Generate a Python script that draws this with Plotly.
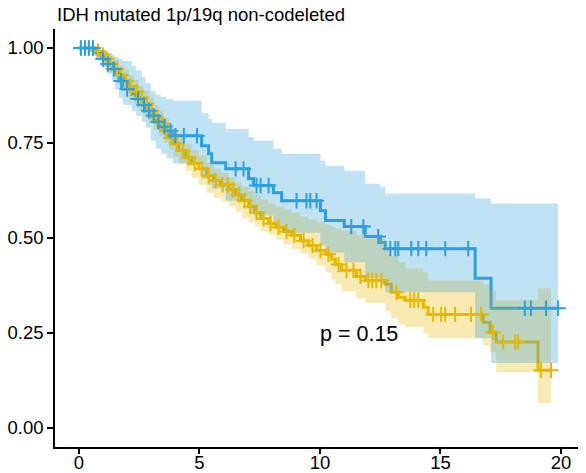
import numpy as np
import plotly.graph_objects as go

# ---------------- data ----------------
blue_time = [0, 0.70, 0.95, 1.16, 1.37, 1.49, 1.66, 1.82, 2.19, 2.36, 2.61, 2.77, 2.98, 3.19, 3.40, 3.64,
             3.89, 5.09, 5.38, 5.51, 6.09, 7.04, 7.25, 8.07, 8.41, 10.02, 10.23, 11.01, 11.88, 12.51,
             12.71, 16.44, 17.10]
blue_surv = [1, .987, .971, .958, .945, .932, .913, .892, .879, .866, .850, .835, .822, .806, .793, .782,
             .769, .743, .722, .698, .682, .656, .638, .619, .598, .572, .546, .530, .504, .488,
             .472, .394, .315]
blue_upper = [1, .995, .992, .987, .982, .976, .971, .966, .953, .940, .924, .908, .887, .877, .871, .866,
              .861, .829, .814, .803, .787, .766, .756, .735, .722, .703, .690, .677, .643, .635,
              .617, .604, .591]
blue_lower = [1, .971, .950, .932, .913, .892, .869, .850, .835, .822, .806, .790, .756, .735, .722, .709,
              .696, .656, .640, .630, .598, .572, .559, .533, .514, .480, .462, .436, .394, .378,
              .357, .236, .171]
blue_end = 19.88
blue_censor = [0.08, 0.25, 0.41, 0.58, 1.0, 1.2, 1.45, 1.75, 2.0, 2.45, 2.7, 2.9, 3.1, 3.3, 3.55, 3.8,
               4.0, 4.35, 4.9, 6.5, 6.83, 7.37, 7.54, 7.87, 9.03, 9.44, 9.6, 9.86, 11.3, 11.8, 12.42,
               12.92, 13.13, 13.25, 13.79, 14.08, 14.41, 15.2, 16.15, 18.5, 18.76, 19.38, 19.88]

yellow_time = [0, .62, .83, 1.04, 1.24, 1.45, 1.66, 1.86, 2.07, 2.28, 2.48, 2.69, 2.90, 3.11, 3.31, 3.52,
               3.73, 3.93, 4.14, 4.43, 4.68, 4.97, 5.30, 5.59, 5.88, 6.21, 6.50, 6.75, 7.04, 7.29,
               7.54, 7.87, 8.16, 8.49, 8.82, 9.19, 9.52, 9.86, 10.23, 10.48, 10.64, 10.89, 11.51,
               11.88, 12.71, 12.96, 13.25, 13.54, 14.29, 14.49, 16.77, 17.06, 17.31, 19.05]
yellow_surv = [1, .992, .982, .971, .958, .945, .929, .913, .898, .885, .869, .853, .835, .816, .801, .782,
               .764, .748, .730, .711, .696, .682, .664, .651, .640, .627, .614, .598, .583, .567,
               .551, .538, .528, .517, .507, .493, .480, .467, .457, .444, .430, .415, .399,
               .388, .378, .357, .344, .336, .318, .299, .278, .252, .226, .152]
yellow_upper = [1, .997, .995, .990, .979, .969, .955, .942, .929, .916, .900, .887, .869, .850, .835, .816,
                .798, .785, .766, .748, .730, .717, .698, .682, .672, .659, .646, .635, .625, .614,
                .601, .591, .583, .575, .567, .556, .549, .543, .535, .530, .525, .520, .507,
                .499, .475, .454, .436, .420, .409, .388, .378, .362, .336, .367]
yellow_lower = [1, .984, .971, .955, .940, .921, .903, .887, .869, .853, .835, .819, .801, .785, .769, .751,
                .732, .714, .696, .677, .659, .640, .619, .606, .596, .583, .570, .551, .541, .530,
                .517, .507, .496, .483, .472, .459, .446, .428, .409, .391, .378, .360, .341,
                .328, .307, .289, .273, .265, .249, .236, .218, .199, .147, .066]
yellow_end = 19.59
yellow_censor = [.08, .25, .41, .58, .79, .99, 1.16, 1.33, 1.57, 1.74, 1.95, 2.15, 2.40, 2.61, 2.82, 3.02,
                 3.23, 3.44, 3.64, 3.81, 4.06, 4.31, 4.55, 4.80, 5.09, 5.38, 5.67, 5.96, 6.17, 6.38,
                 6.63, 6.87, 7.12, 7.37, 7.66, 7.95, 8.28, 8.61, 8.94, 9.32, 9.69, 10.02, 10.35,
                 10.77, 11.10, 11.39, 11.68, 12.01, 12.17, 12.34, 12.55, 13.17, 13.75, 13.91, 14.08,
                 14.70, 15.03, 15.20, 15.61, 16.27, 16.69, 17.18, 17.60, 18.10, 18.22, 19.17, 19.59]

title_text = "IDH mutated 1p/19q non-codeleted"
pval_text = "p = 0.15"
pval_pos = (11.64, 0.247)
y_ticks = [0, 0.25, 0.5, 0.75, 1.0]
x_ticks = [0, 5, 10, 15, 20]

YELLOW = "#E7B800"
BLUE = "#2E9FDF"
YELLOW_FILL = "rgba(231,184,0,0.3)"
BLUE_FILL = "rgba(46,159,223,0.3)"


def ext(times, vals, end):
    return list(times) + [end], list(vals) + [vals[-1]]


def step_at(times, vals, c):
    idx = np.searchsorted(np.array(times), np.array(c), side="right") - 1
    return [float(v) for v in np.array(vals)[idx]]


fig = go.Figure()

# survival step lines (drawn first; ribbons go over them)
for t, s, end, col in [(yellow_time, yellow_surv, yellow_end, YELLOW),
                       (blue_time, blue_surv, blue_end, BLUE)]:
    x, y = ext(t, s, end)
    fig.add_trace(go.Scatter(x=x, y=y, mode="lines", line=dict(color=col, width=3, shape="hv"),
                             showlegend=False, hoverinfo="skip"))

# confidence ribbons
for t, lo, up, end, fc in [(yellow_time, yellow_lower, yellow_upper, yellow_end, YELLOW_FILL),
                           (blue_time, blue_lower, blue_upper, blue_end, BLUE_FILL)]:
    xl, yl = ext(t, lo, end)
    xu, yu = ext(t, up, end)
    fig.add_trace(go.Scatter(x=xl, y=yl, mode="lines", line=dict(width=0, shape="hv"),
                             showlegend=False, hoverinfo="skip"))
    fig.add_trace(go.Scatter(x=xu, y=yu, mode="lines", line=dict(width=0, shape="hv"),
                             fill="tonexty", fillcolor=fc, showlegend=False, hoverinfo="skip"))

# censor marks
for t, s, cen, col in [(yellow_time, yellow_surv, yellow_censor, YELLOW),
                       (blue_time, blue_surv, blue_censor, BLUE)]:
    fig.add_trace(go.Scatter(x=cen, y=step_at(t, s, cen), mode="markers",
                             marker=dict(symbol="cross-thin", size=11, line=dict(color=col, width=2)),
                             showlegend=False, hoverinfo="skip", cliponaxis=False))

# the page body adds an 8 px offset, so the figure is 8 px smaller than the window
xmax = max(blue_end, yellow_end)
fig.update_layout(
    width=578, height=465,
    margin=dict(l=47, r=4, t=21, b=26, autoexpand=False),
    paper_bgcolor="white", plot_bgcolor="white",
    font=dict(family="Liberation Sans, Arial, Helvetica, sans-serif", color="black", size=18),
    xaxis=dict(range=[-0.05 * xmax, 1.05 * xmax], tickvals=x_ticks, showgrid=False, zeroline=False,
               showline=True, linecolor="black", linewidth=1.5, ticks="outside", ticklen=5,
               tickwidth=1.5, tickcolor="black", tickfont=dict(size=18.5, color="black"),
               automargin=False, ticklabelstandoff=-7),
    yaxis=dict(range=[-0.05, 1.05], tickvals=y_ticks, tickformat=".2f", showgrid=False, zeroline=False,
               showline=True, linecolor="black", linewidth=1.5, ticks="outside", ticklen=6,
               tickwidth=1.5, tickcolor="black", tickfont=dict(size=18.5, color="black"),
               automargin=False),
    annotations=[
        dict(text=title_text, xref="paper", yref="paper", x=0.0, y=1 + 14 / 418,
             xanchor="left", yanchor="middle", showarrow=False, font=dict(size=18.5, color="black")),
        dict(text=pval_text, x=pval_pos[0], y=pval_pos[1], xref="x", yref="y",
             xanchor="center", yanchor="middle", showarrow=False, font=dict(size=21.5, color="black")),
    ],
)

fig.write_html("out.html")
